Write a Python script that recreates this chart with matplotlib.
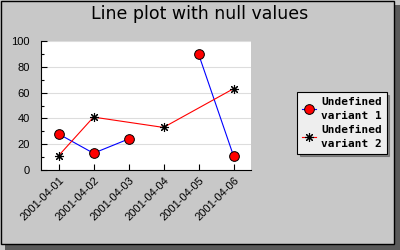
import matplotlib.pyplot as plt
import matplotlib.patches as mpatches
import numpy as np

dates = ['2001-04-01', '2001-04-02', '2001-04-03', '2001-04-04', '2001-04-05', '2001-04-06']
# None in variant 1 breaks the line, None in variant 2 is skipped (line joins over it)
variant1 = [28, 13, 24, None, 90, 11]
variant2 = [11, 41, None, 33, None, 63]

bg = '#c8c8c8'
fig = plt.figure(figsize=(4, 2.5), dpi=100)
fig.patch.set_facecolor(bg)

# frame with drop shadow
fig.patches.append(mpatches.Rectangle((5/400, 0), 395/400, 245/250, transform=fig.transFigure,
                                      facecolor='#5a5a5a', edgecolor='none', zorder=-2))
fig.patches.append(mpatches.Rectangle((0.5/400, 6/250), 393/400, 243.5/250, transform=fig.transFigure,
                                      facecolor=bg, edgecolor='black', linewidth=1, zorder=-1))

ax = fig.add_axes([41/400, 1 - 170/250, 210/400, 129/250])
ax.set_facecolor('white')

x = np.arange(len(dates))
y1 = np.array([np.nan if v is None else v for v in variant1], dtype=float)
ax.plot(x, y1, color='blue', linewidth=0.8, marker='o', markersize=7,
        markerfacecolor='red', markeredgecolor='black', markeredgewidth=0.7,
        label='Undefined\nvariant 1', zorder=3)

x2 = [i for i, v in enumerate(variant2) if v is not None]
y2 = [v for v in variant2 if v is not None]
ax.plot(x2, y2, color='red', linewidth=0.8, marker=(8, 2, 0), markersize=6.5,
        markeredgecolor='black', markeredgewidth=0.8,
        label='Undefined\nvariant 2', zorder=3)

ax.set_xlim(-0.5, len(dates) - 0.5)
ax.set_ylim(0, 100)
ax.set_yticks([0, 20, 40, 60, 80, 100])
ax.set_yticks(range(10, 100, 20), minor=True)
ax.set_xticks(x)
ax.set_xticklabels(dates, rotation=45, ha='right', va='top', rotation_mode='anchor',
                   fontsize=8, family='Liberation Sans')
for lab in ax.get_yticklabels():
    lab.set_fontsize(8)
    lab.set_family('Liberation Sans')
ax.yaxis.grid(True, color='#dddddd', linewidth=0.8)
ax.set_axisbelow(True)
ax.tick_params(axis='both', direction='in', length=4, width=0.8, pad=8)
ax.tick_params(axis='y', which='minor', direction='in', length=2.5, width=0.8)
ax.tick_params(axis='x', pad=4)
for side in ['top', 'right']:
    ax.spines[side].set_visible(False)

fig.text(200/400, 1 - 14/250, 'Line plot with null values', fontsize=12.5,
         ha='center', va='center', family='DejaVu Sans')

leg = fig.legend(loc='upper left', bbox_to_anchor=(297/400, 1 - 92/250),
                 prop={'family': 'DejaVu Sans Mono', 'weight': 'bold', 'size': 8},
                 frameon=True, fancybox=False, shadow=True, handlelength=1.3,
                 handletextpad=0.4, borderpad=0.45, labelspacing=0.4, borderaxespad=0)
for t in leg.get_texts():
    t.set_linespacing(1.45)
leg.get_frame().set_facecolor('#eeeeee')
leg.get_frame().set_edgecolor('black')
leg.get_frame().set_linewidth(0.8)

fig.savefig('out.png', dpi=100, facecolor=fig.get_facecolor())
